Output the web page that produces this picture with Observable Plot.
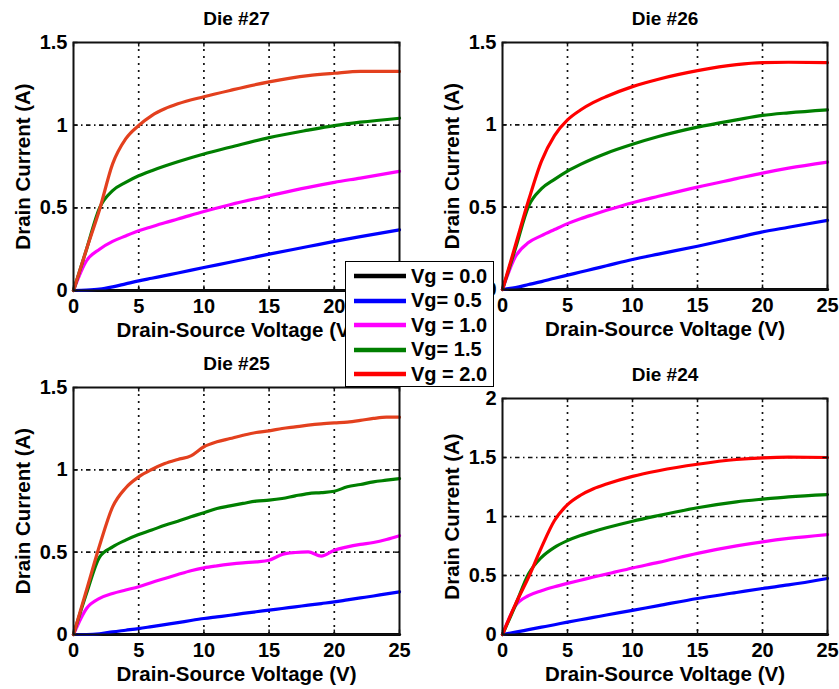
<!DOCTYPE html>
<html>
<head>
<meta charset="utf-8">
<script src="https://cdn.jsdelivr.net/npm/d3@7"></script>
<script src="https://cdn.jsdelivr.net/npm/@observablehq/plot@0.6"></script>
<style>
  html, body { margin: 0; padding: 0; background: #fff; }
  #wrap { position: relative; width: 839px; height: 689px; overflow: hidden; font-family: "Liberation Sans", Arial, sans-serif; font-weight: bold; }
  .panel { position: absolute; }
  #legend { position: absolute; left: 345px; top: 261px; width: 147px; height: 124px; background: #fff; border: 1.5px solid #000; box-sizing: content-box; }
  .lg-row { position: absolute; left: 8px; height: 24px; display: flex; align-items: center; }
  .lg-row span { font-size: 20px; margin-left: 5px; color: #000; white-space: pre; }
</style>
</head>
<body>
<div id="wrap"><div id="legend"></div></div>
<script>
// ---- Data ----
const vgLabels = ["Vg = 0.0", "Vg= 0.5", "Vg = 1.0", "Vg= 1.5", "Vg = 2.0"];
const vgColors = ["#000000", "#0000ff", "#ff00ff", "#007f00", "#ff0000"];

const xSmooth = [0, 1, 2, 3, 4, 5, 6, 7, 8, 10, 12, 15, 18, 20, 22, 25];
const xDie25 = [0,1,2,3,4,5,6,7,8,9,10,11,12,13,14,15,16,17,18,19,20,21,22,23,24,25];

// Die #27
const die27_vg20 = [0,0.25,0.49,0.766,0.917,0.998,1.058,1.099,1.129,1.172,1.21,1.262,1.300,1.314,1.325,1.325];
const die27_vg15 = [0,0.25,0.5,0.604,0.654,0.694,0.725,0.753,0.779,0.826,0.866,0.925,0.97,0.997,1.018,1.042];
const die27_vg10 = [0,0.18,0.25,0.297,0.33,0.361,0.386,0.41,0.432,0.478,0.519,0.573,0.624,0.654,0.68,0.721];
const die27_vg05 = [0,0.002,0.008,0.022,0.04,0.058,0.074,0.09,0.106,0.139,0.171,0.22,0.266,0.297,0.326,0.367];

// Die #26
const die26_vg20 = [0,0.27,0.54,0.78,0.935,1.03,1.09,1.136,1.172,1.232,1.277,1.329,1.366,1.378,1.38,1.378];
const die26_vg15 = [0,0.25,0.505,0.612,0.669,0.719,0.76,0.796,0.828,0.882,0.929,0.986,1.03,1.057,1.073,1.091];
const die26_vg10 = [0,0.2,0.285,0.327,0.364,0.4,0.43,0.456,0.481,0.527,0.566,0.622,0.673,0.707,0.737,0.774];
const die26_vg05 = [0,0.012,0.03,0.048,0.068,0.087,0.106,0.125,0.144,0.182,0.215,0.263,0.315,0.35,0.378,0.42];

// Die #25
const die25_vg20 = [0,0.27,0.54,0.775,0.89,0.957,1.002,1.038,1.063,1.085,1.14,1.17,1.19,1.21,1.227,1.237,1.251,1.261,1.271,1.279,1.285,1.29,1.3,1.312,1.32,1.32];
const die25_vg15 = [0,0.25,0.47,0.532,0.573,0.607,0.634,0.664,0.688,0.715,0.739,0.765,0.781,0.796,0.81,0.816,0.826,0.842,0.856,0.862,0.87,0.897,0.911,0.927,0.937,0.947];
const die25_vg10 = [0,0.158,0.219,0.249,0.27,0.29,0.316,0.34,0.364,0.387,0.405,0.417,0.427,0.435,0.441,0.451,0.486,0.498,0.502,0.476,0.512,0.532,0.547,0.559,0.577,0.6];
const die25_vg05 = [0,0,0.004,0.016,0.026,0.036,0.048,0.06,0.072,0.085,0.097,0.107,0.117,0.128,0.138,0.148,0.158,0.168,0.178,0.188,0.198,0.21,0.222,0.234,0.247,0.259];

// Die #24
const die24_vg20 = [0,0.258,0.484,0.739,0.966,1.1,1.18,1.235,1.275,1.34,1.388,1.443,1.483,1.497,1.503,1.5];
const die24_vg15 = [0,0.25,0.513,0.654,0.739,0.796,0.839,0.873,0.904,0.96,1.008,1.074,1.124,1.147,1.167,1.186];
const die24_vg10 = [0,0.244,0.329,0.371,0.404,0.433,0.46,0.487,0.512,0.564,0.611,0.688,0.751,0.785,0.814,0.847];
const die24_vg05 = [0,0.02,0.041,0.062,0.083,0.105,0.125,0.145,0.165,0.205,0.245,0.305,0.356,0.39,0.42,0.475];

const xTicks = [0, 5, 10, 15, 20, 25];
const yTicks15 = [0, 0.5, 1, 1.5];
const yTicks20 = [0, 0.5, 1, 1.5, 2];

// ---- Panel configs ----
const panels = [
  { title: "Die #27", xs: xSmooth, series: [xSmooth.map(() => 0), die27_vg05, die27_vg10, die27_vg15, die27_vg20],
    ymax: 1.5, yTicks: yTicks15, red: "#e3401e",
    left: 0, top: 0, width: 420, height: 345, m: [42, 21, 55, 73] },
  { title: "Die #26", xs: xSmooth, series: [xSmooth.map(() => 0), die26_vg05, die26_vg10, die26_vg15, die26_vg20],
    ymax: 1.5, yTicks: yTicks15, red: "#ff0000",
    left: 420, top: 0, width: 419, height: 345, m: [42, 12, 56, 82] },
  { title: "Die #25", xs: xDie25, series: [xDie25.map(() => 0), die25_vg05, die25_vg10, die25_vg15, die25_vg20],
    ymax: 1.5, yTicks: yTicks15, red: "#e3401e",
    left: 0, top: 345, width: 420, height: 344, m: [42, 21, 55, 73] },
  { title: "Die #24", xs: xSmooth, series: [xSmooth.map(() => 0), die24_vg05, die24_vg10, die24_vg15, die24_vg20],
    ymax: 2, yTicks: yTicks20, red: "#ff0000",
    left: 420, top: 345, width: 419, height: 344, m: [53, 12, 55, 82] }
];

const wrap = document.getElementById("wrap");
const legendEl = document.getElementById("legend");
const FONT = "'Liberation Sans', Arial, sans-serif";
const fmt = d => String(d);

panels.forEach(p => {
  const rows = [];
  p.series.forEach((vals, si) => {
    vals.forEach((v, i) => rows.push({ vg: vgLabels[si], x: p.xs[i], y: v }));
  });
  const colors = vgColors.slice(0, 4).concat([p.red]);
  const tk = p.ymax * 0.018;
  const chart = Plot.plot({
    width: p.width,
    height: p.height,
    marginTop: p.m[0], marginRight: p.m[1], marginBottom: p.m[2], marginLeft: p.m[3],
    style: { fontFamily: FONT, fontWeight: "bold", background: "transparent", overflow: "visible" },
    x: { domain: [0, 25] },
    y: { domain: [0, p.ymax] },
    color: { domain: vgLabels, range: colors },
    marks: [
      Plot.gridX(xTicks.slice(1, -1), { stroke: "#111", strokeOpacity: 1, strokeWidth: 1.7, strokeDasharray: "2,5" }),
      Plot.gridY(p.yTicks.slice(1, -1), { stroke: "#111", strokeOpacity: 1, strokeWidth: 1.7, strokeDasharray: "4.5,3.5,1.5,3.5" }),
      Plot.line(rows, { x: "x", y: "y", z: "vg", stroke: "vg", strokeWidth: 3.2, curve: "monotone-x" }),
      Plot.frame({ stroke: "#111", strokeWidth: 2 }),
      Plot.axisX(xTicks, { anchor: "bottom", tickSize: 0, tickPadding: 8, fontSize: 20, label: null, tickFormat: fmt }),
      Plot.axisY(p.yTicks, { anchor: "left", tickSize: 0, tickPadding: 6, fontSize: 20, label: null, tickFormat: fmt }),
      Plot.ruleX(xTicks, { x: d => d, y1: 0, y2: tk, stroke: "#111", strokeWidth: 1.5 }),
      Plot.ruleX(xTicks, { x: d => d, y1: p.ymax, y2: p.ymax - tk, stroke: "#111", strokeWidth: 1.5 }),
      Plot.ruleY(p.yTicks, { y: d => d, x1: 0, x2: 0.35, stroke: "#111", strokeWidth: 1.5 }),
      Plot.ruleY(p.yTicks, { y: d => d, x1: 25, x2: 24.65, stroke: "#111", strokeWidth: 1.5 }),
      Plot.text([p.title], { text: d => d, frameAnchor: "top", dy: -24, fontSize: 19, fontWeight: "bold", lineAnchor: "middle" }),
      Plot.text(["Drain-Source Voltage (V)"], { text: d => d, frameAnchor: "bottom", dy: 40, fontSize: 20.5, fontWeight: "bold", lineAnchor: "middle" }),
      Plot.text(["Drain Current (A)"], { text: d => d, frameAnchor: "left", dx: -50, rotate: -90, textAnchor: "middle", fontSize: 20.5, fontWeight: "bold", lineAnchor: "middle" })
    ]
  });
  chart.classList.add("panel");
  chart.style.left = p.left + "px";
  chart.style.top = p.top + "px";
  wrap.insertBefore(chart, legendEl);
});

// ---- Legend ----
vgLabels.forEach((lab, i) => {
  const row = document.createElement("div");
  row.className = "lg-row";
  row.style.top = (2 + i * 24.5) + "px";
  const sw = d3.create("svg").attr("width", 52).attr("height", 8);
  sw.append("line").attr("x1", 0).attr("x2", 52).attr("y1", 4).attr("y2", 4)
    .attr("stroke", vgColors[i]).attr("stroke-width", 4.5);
  row.appendChild(sw.node());
  const t = document.createElement("span");
  t.textContent = lab;
  row.appendChild(t);
  legendEl.appendChild(row);
});
</script>
</body>
</html>
